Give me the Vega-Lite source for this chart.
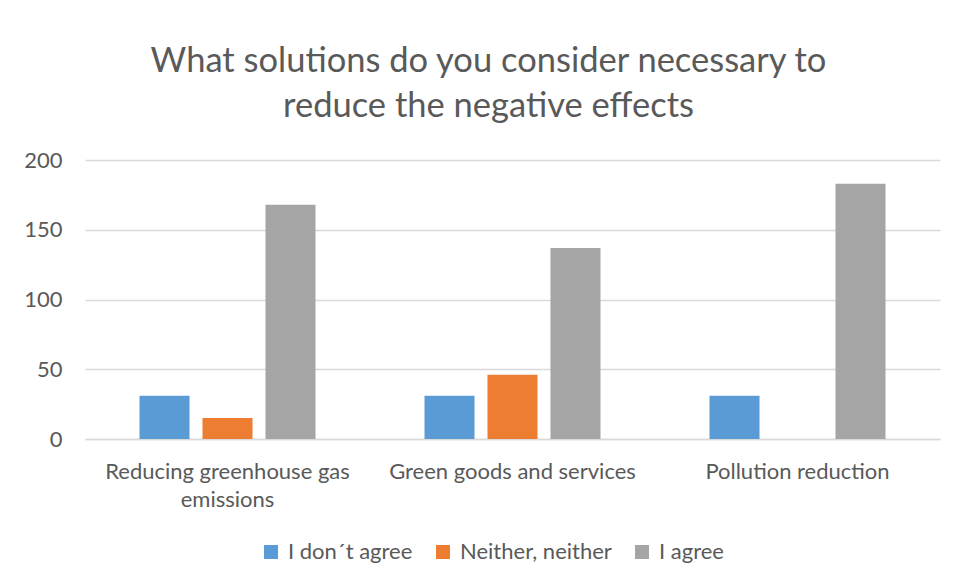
{
  "$schema": "https://vega.github.io/schema/vega-lite/v6.json",
  "width": 855,
  "height": 279,
  "autosize": {"type": "none"},
  "padding": {"left": 85, "top": 160, "right": 16, "bottom": 144},
  "background": "white",
  "title": {
    "text": ["What solutions do you consider necessary to", "reduce the negative effects"],
    "font": "Lato",
    "fontSize": 34.5,
    "fontWeight": "normal",
    "color": "#595959",
    "anchor": "middle",
    "dx": -24,
    "lineHeight": 45,
    "offset": 25
  },
  "data": {
    "values": [
      {"solution": "Reducing greenhouse gas emissions", "answer": "I don´t agree", "count": 31},
      {"solution": "Reducing greenhouse gas emissions", "answer": "Neither, neither", "count": 15},
      {"solution": "Reducing greenhouse gas emissions", "answer": "I agree", "count": 168},
      {"solution": "Green goods and services", "answer": "I don´t agree", "count": 31},
      {"solution": "Green goods and services", "answer": "Neither, neither", "count": 46},
      {"solution": "Green goods and services", "answer": "I agree", "count": 137},
      {"solution": "Pollution reduction", "answer": "I don´t agree", "count": 31},
      {"solution": "Pollution reduction", "answer": "Neither, neither", "count": 0},
      {"solution": "Pollution reduction", "answer": "I agree", "count": 183}
    ]
  },
  "mark": "bar",
  "encoding": {
    "x": {
      "field": "solution",
      "type": "nominal",
      "sort": ["Reducing greenhouse gas emissions", "Green goods and services", "Pollution reduction"],
      "scale": {"paddingInner": 0, "paddingOuter": 0},
      "axis": {
        "title": null,
        "labelAngle": 0,
        "labelFont": "Lato",
        "labelFontSize": 22,
        "labelColor": "#595959",
        "labelPadding": 22,
        "labelLineHeight": 28,
        "labelLimit": 0,
        "labelExpr": "datum.value == 'Reducing greenhouse gas emissions' ? ['Reducing greenhouse gas', 'emissions'] : datum.value",
        "ticks": false,
        "domainColor": "#d9d9d9",
        "domainWidth": 1.5
      }
    },
    "xOffset": {
      "field": "answer",
      "type": "nominal",
      "sort": ["I don´t agree", "Neither, neither", "I agree"],
      "scale": {"paddingInner": 0.206, "paddingOuter": 0.865}
    },
    "y": {
      "field": "count",
      "type": "quantitative",
      "scale": {"domain": [0, 200], "nice": false},
      "axis": {
        "title": null,
        "values": [0, 50, 100, 150, 200],
        "labelFont": "Lato",
        "labelFontSize": 22,
        "labelColor": "#595959",
        "labelPadding": 23,
        "ticks": false,
        "domain": false,
        "gridColor": "#d9d9d9",
        "gridWidth": 1.5
      }
    },
    "color": {
      "field": "answer",
      "type": "nominal",
      "sort": ["I don´t agree", "Neither, neither", "I agree"],
      "scale": {
        "domain": ["I don´t agree", "Neither, neither", "I agree"],
        "range": ["#5B9BD5", "#ED7D31", "#A5A5A5"]
      },
      "legend": {
        "title": null,
        "orient": "none",
        "direction": "horizontal",
        "legendX": 175,
        "legendY": 381,
        "symbolType": "square",
        "symbolSize": 196,
        "symbolStrokeWidth": 0,
        "labelFont": "Lato",
        "labelFontSize": 22,
        "labelColor": "#595959",
        "labelOffset": 6,
        "columnPadding": 19
      }
    }
  },
  "config": {"view": {"stroke": null}}
}
